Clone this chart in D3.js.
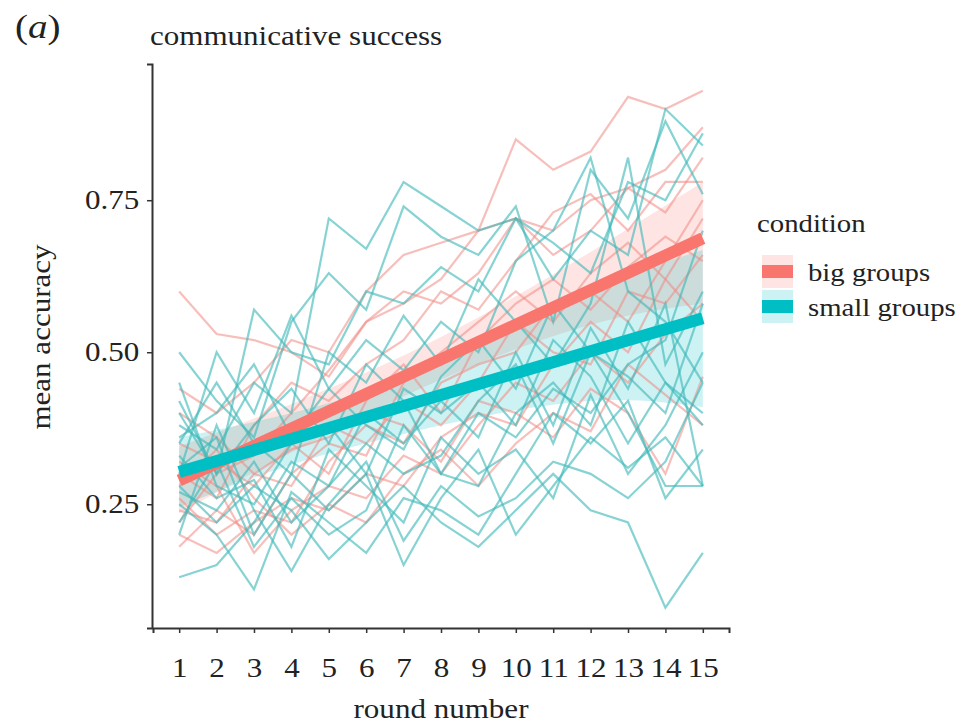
<!DOCTYPE html>
<html>
<head>
<meta charset="utf-8">
<title>communicative success</title>
<style>
  body { margin: 0; background: #fff; }
  svg { display: block; font-family: "Liberation Serif", "DejaVu Serif", serif; }
</style>
</head>
<body>
<script src="https://d3js.org/d3.v7.min.js"></script>
<script>
// rounds 1..15
const rounds = d3.range(1, 16);
const yTicks = [0.25, 0.5, 0.75];

// per-group mean accuracy, big groups
const bigGroups = [
  [0.60,0.53,0.52,0.50,0.46,0.55,0.58,0.62,0.70,0.85,0.80,0.83,0.92,0.90,0.93],
  [0.44,0.40,0.45,0.52,0.50,0.60,0.66,0.68,0.70,0.72,0.70,0.75,0.77,0.80,0.87],
  [0.22,0.30,0.33,0.40,0.47,0.55,0.60,0.58,0.63,0.72,0.66,0.70,0.77,0.73,0.82],
  [0.30,0.26,0.38,0.45,0.42,0.48,0.52,0.60,0.57,0.65,0.73,0.76,0.70,0.78,0.78],
  [0.18,0.24,0.20,0.30,0.35,0.33,0.45,0.50,0.55,0.60,0.55,0.63,0.68,0.62,0.72],
  [0.35,0.32,0.28,0.35,0.30,0.42,0.48,0.40,0.52,0.58,0.62,0.57,0.64,0.69,0.65],
  [0.26,0.20,0.24,0.22,0.32,0.38,0.35,0.45,0.48,0.50,0.58,0.60,0.55,0.65,0.75],
  [0.40,0.36,0.30,0.28,0.38,0.35,0.42,0.38,0.45,0.55,0.50,0.48,0.60,0.58,0.66],
  [0.20,0.17,0.22,0.26,0.24,0.30,0.28,0.36,0.40,0.38,0.48,0.55,0.50,0.62,0.55],
  [0.32,0.28,0.17,0.24,0.28,0.26,0.33,0.30,0.38,0.45,0.42,0.50,0.45,0.53,0.58],
  [0.28,0.34,0.26,0.20,0.25,0.22,0.30,0.34,0.28,0.35,0.40,0.37,0.48,0.43,0.38],
  [0.24,0.22,0.30,0.34,0.36,0.40,0.38,0.32,0.42,0.40,0.36,0.44,0.40,0.30,0.46]
];

// per-group mean accuracy, small groups
const smallGroups = [
  [0.38,0.34,0.45,0.40,0.72,0.67,0.78,0.74,0.70,0.72,0.62,0.70,0.66,0.90,0.84],
  [0.50,0.42,0.36,0.55,0.63,0.57,0.74,0.69,0.66,0.74,0.55,0.80,0.72,0.88,0.76],
  [0.42,0.30,0.57,0.50,0.48,0.60,0.58,0.64,0.60,0.72,0.68,0.63,0.78,0.75,0.86],
  [0.30,0.50,0.40,0.56,0.44,0.52,0.47,0.55,0.50,0.65,0.70,0.82,0.60,0.55,0.45],
  [0.35,0.45,0.35,0.30,0.50,0.45,0.56,0.48,0.62,0.55,0.48,0.58,0.82,0.48,0.60],
  [0.13,0.15,0.22,0.32,0.28,0.40,0.35,0.42,0.36,0.50,0.38,0.54,0.44,0.58,0.28],
  [0.45,0.28,0.25,0.35,0.38,0.30,0.44,0.40,0.45,0.38,0.52,0.46,0.35,0.45,0.38],
  [0.27,0.24,0.32,0.22,0.28,0.35,0.30,0.33,0.42,0.48,0.35,0.50,0.40,0.28,0.28],
  [0.22,0.32,0.18,0.26,0.20,0.24,0.38,0.30,0.28,0.40,0.45,0.38,0.55,0.45,0.40],
  [0.33,0.26,0.29,0.18,0.34,0.28,0.22,0.36,0.30,0.34,0.26,0.43,0.30,0.38,0.50],
  [0.25,0.20,0.11,0.27,0.22,0.17,0.26,0.24,0.20,0.30,0.40,0.35,0.42,0.26,0.34],
  [0.20,0.38,0.24,0.14,0.25,0.32,0.19,0.28,0.23,0.26,0.32,0.30,0.26,0.32,0.45],
  [0.28,0.22,0.28,0.24,0.16,0.22,0.28,0.22,0.18,0.24,0.30,0.24,0.22,0.08,0.17],
  [0.36,0.40,0.48,0.36,0.44,0.38,0.34,0.46,0.52,0.44,0.58,0.50,0.46,0.40,0.58],
  [0.31,0.36,0.20,0.30,0.24,0.30,0.15,0.26,0.34,0.20,0.28,0.36,0.31,0.36,0.28],
  [0.40,0.30,0.38,0.44,0.35,0.48,0.42,0.30,0.40,0.36,0.44,0.40,0.48,0.52,0.70]
];

// fitted trend (at rounds 1 and 15) and confidence band
const fitRounds = [1, 15];
const fitBig = [0.289, 0.6875];
const fitSmall = [0.303, 0.556];
const bandRounds = [1, 4, 8, 12, 15];
const bandBigLo = [0.235, 0.335, 0.455, 0.545, 0.58];
const bandBigHi = [0.345, 0.415, 0.525, 0.665, 0.78];
const bandSmallLo = [0.245, 0.315, 0.38, 0.42, 0.41];
const bandSmallHi = [0.36, 0.40, 0.48, 0.60, 0.668];

const conditions = ["big groups", "small groups"];
const colors = { "big groups": "#F8766D", "small groups": "#00BFC4" };

const width = 971, height = 725;
const stretch = 1.15;   // the source figure is a little wider than tall
const svg = d3.select("body").append("svg")
  .attr("width", width)
  .attr("height", height);

// ggplot-like expansion of the data ranges
const x = d3.scaleLinear().domain([0.3, 15.7]).range([153, 729]);
const y = d3.scaleLinear().domain([0.0465, 0.974]).range([628, 64]);

// bands
const area = d3.area()
  .x((d, i) => x(bandRounds[i]))
  .y0(d => y(d[0]))
  .y1(d => y(d[1]))
  .curve(d3.curveNatural);

const bands = [
  { key: "big groups", lo: bandBigLo, hi: bandBigHi },
  { key: "small groups", lo: bandSmallLo, hi: bandSmallHi }
];
svg.append("g").selectAll("path")
  .data(bands)
  .join("path")
  .attr("d", b => area(b.lo.map((v, i) => [v, b.hi[i]])))
  .attr("fill", b => colors[b.key])
  .attr("fill-opacity", 0.2);

// spaghetti lines
const line = d3.line()
  .x((d, i) => x(rounds[i]))
  .y(d => y(d));

const groups = [
  ...bigGroups.map(v => ({ key: "big groups", v })),
  ...smallGroups.map(v => ({ key: "small groups", v }))
];
svg.append("g").selectAll("path")
  .data(groups)
  .join("path")
  .attr("d", g => line(g.v))
  .attr("fill", "none")
  .attr("stroke", g => g.key === "big groups" ? "#F08A84" : "#3DB8B8")
  .attr("stroke-opacity", g => g.key === "big groups" ? 0.55 : 0.62)
  .attr("stroke-width", 2.2);

// trend lines
const fitLine = d3.line()
  .x((d, i) => x(fitRounds[i]))
  .y(d => y(d));
svg.append("g").selectAll("path")
  .data([{ key: "big groups", v: fitBig }, { key: "small groups", v: fitSmall }])
  .join("path")
  .attr("d", f => fitLine(f.v))
  .attr("fill", "none")
  .attr("stroke", f => colors[f.key])
  .attr("stroke-width", 12);

// axes
const xAxis = svg.append("g")
  .attr("transform", "translate(0,628)")
  .call(d3.axisBottom(x).tickValues(rounds).tickSize(5).tickFormat(d3.format("d")));
const yAxis = svg.append("g")
  .attr("transform", "translate(152,0)")
  .call(d3.axisLeft(y).tickValues(yTicks).tickSize(5).tickPadding(6).tickFormat(d3.format(".2f")));
[xAxis, yAxis].forEach(a => {
  a.attr("font-family", null).attr("font-size", 27);
  a.select(".domain").attr("stroke", "#333").attr("stroke-width", 2);
  a.selectAll(".tick line").attr("stroke", "#333").attr("stroke-width", 1.5);
  a.selectAll(".tick text").attr("fill", "#222")
    .attr("transform", `scale(${stretch},1)`);
});
xAxis.selectAll(".tick text").attr("y", 49).attr("dy", 0);

// titles
function label(text, px, py, size, anchor, rot) {
  return svg.append("text")
    .attr("transform", `translate(${px},${py})${rot ? " rotate(" + rot + ")" : ""} scale(${stretch},1)`)
    .attr("font-size", size).attr("fill", "#222")
    .attr("text-anchor", anchor || "start")
    .text(text);
}
svg.append("text")
  .attr("transform", `translate(15,38) scale(${stretch},1)`)
  .attr("font-size", 34).attr("fill", "#222")
  .html('(<tspan font-style="italic">a</tspan>)');
label("communicative success", 150, 45, 27);
label("round number", x(8), 718, 27, "middle");
label("mean accuracy", 50, 337, 27, "middle", -90);

// legend
label("condition", 757, 232, 25);
const items = svg.append("g").selectAll("g.item")
  .data(conditions)
  .join("g")
  .attr("class", "item")
  .attr("transform", (d, i) => `translate(762,${255 + i * 35})`);
items.append("rect")
  .attr("width", 31).attr("height", 33)
  .attr("fill", d => colors[d]).attr("fill-opacity", 0.2);
items.append("rect")
  .attr("y", 10).attr("width", 31).attr("height", 13)
  .attr("fill", d => colors[d]);
items.append("text")
  .attr("transform", `translate(46,26) scale(${stretch},1)`)
  .attr("font-size", 25).attr("fill", "#222")
  .text(d => d);
</script>
</body>
</html>
